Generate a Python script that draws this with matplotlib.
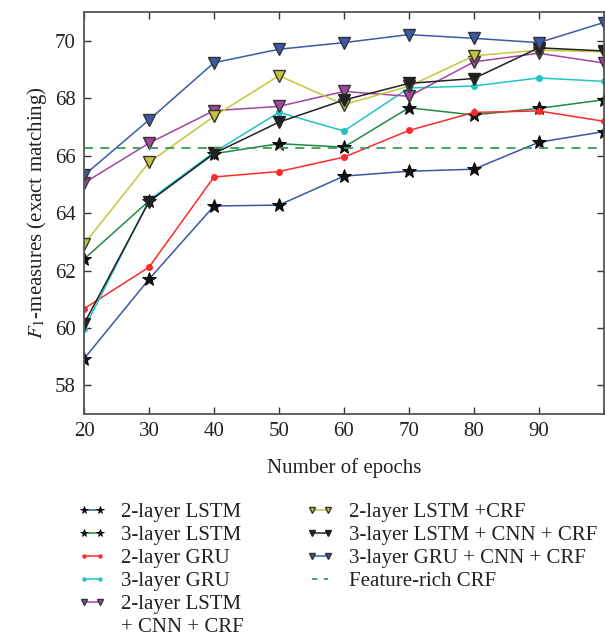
import matplotlib
matplotlib.use("Agg")
import matplotlib.pyplot as plt
from matplotlib.lines import Line2D

plt.rcParams['font.family'] = ['Liberation Serif', 'DejaVu Serif']
plt.rcParams['mathtext.fontset'] = 'stix'

epochs = [20, 30, 40, 50, 60, 70, 80, 90, 100]
lstm2 = [58.93, 61.70, 64.25, 64.28, 65.29, 65.46, 65.53, 66.47, 66.84]
lstm3 = [62.40, 64.43, 66.07, 66.42, 66.30, 67.67, 67.42, 67.65, 67.95]
gru2 = [60.67, 62.12, 65.26, 65.45, 65.95, 66.88, 67.51, 67.56, 67.20]
gru3 = [59.97, 64.45, 66.12, 67.51, 66.86, 68.36, 68.43, 68.71, 68.59]
lstm2_cnn_crf = [65.05, 66.44, 67.57, 67.72, 68.24, 68.07, 69.27, 69.57, 69.23]
lstm2_crf = [62.92, 65.77, 67.37, 68.79, 67.78, 68.42, 69.48, 69.68, 69.62]
lstm3_cnn_crf = [60.15, 64.40, 66.08, 67.17, 67.94, 68.52, 68.69, 69.76, 69.65]
gru3_cnn_crf = [65.32, 67.25, 69.24, 69.71, 69.94, 70.22, 70.09, 69.94, 70.64]
feature_rich_crf = 66.28

labels = ["2-layer LSTM", "3-layer LSTM", "2-layer GRU", "3-layer GRU",
          "2-layer LSTM", "2-layer LSTM +CRF",
          "3-layer LSTM + CNN + CRF", "3-layer GRU + CNN + CRF",
          "Feature-rich CRF"]
label_continuation = "+ CNN + CRF"
xtick_labels = ["20", "30", "40", "50", "60", "70", "80", "90", ""]

FS = 15
fig = plt.figure(figsize=(6.05, 6.42), dpi=100)
ax = fig.add_axes([0.139, 0.355, 0.859, 0.626])

series = [
    (lstm2, '#3c55a5', '*', 'k', 10),
    (lstm3, '#1f8a45', '*', 'k', 10),
    (gru2, '#ff2a2a', 'o', None, 4),
    (gru3, '#22c3c3', 'o', None, 4),
    (lstm2_cnn_crf, '#a445a4', 'v', '#333333', 8),
    (lstm2_crf, '#c5c53a', 'v', '#333333', 8),
    (lstm3_cnn_crf, '#222222', 'v', '#222222', 8),
    (gru3_cnn_crf, '#3a5aa8', 'v', '#333333', 8),
]
handles = []
for (vals, col, mk, mec, ms), lab in zip(series, labels):
    if mk == '*':
        h, = ax.plot(epochs, vals, color=col, lw=1.1, marker=mk, ms=ms,
                     mfc='#111111', mec='k', mew=0.6, label=lab)
    elif mk == 'o':
        h, = ax.plot(epochs, vals, color=col, lw=1.1, marker=mk, ms=ms,
                     mfc=col, mec=col, label=lab)
    else:
        h, = ax.plot(epochs, vals, color=col, lw=1.1, marker=mk, ms=ms,
                     mfc=col, mec=mec, mew=1.0, label=lab)
    handles.append(h)

ax.axhline(feature_rich_crf, color='#3a9a5a', lw=1.3, ls=(0, (5, 4)))
handles.append(Line2D([], [], color='#3a9a5a', lw=1.3, ls=(0, (3, 3.5))))

ax.set_xlim(20, 100)
ax.set_ylim(57, 71)
ax.set_xticks(epochs)
ax.set_xticklabels(xtick_labels)
ax.set_yticks([58, 60, 62, 64, 66, 68, 70])
ax.tick_params(direction='in', top=True, right=True, labelsize=FS, length=5,
               width=1.0, colors='#333333', labelcolor='#222222', pad=6)
for s in ax.spines.values():
    s.set_color('#555555')
    s.set_linewidth(1.3)

ax.set_xlabel("Number of epochs", fontsize=FS, color='#222222', labelpad=12)
ax.set_ylabel("$F_1$-measures (exact matching)", fontsize=FS, color='#222222', labelpad=4)

blank = Line2D([], [], ls='none', marker='none')
common = dict(frameon=False, loc='upper left', fontsize=FS, handlelength=1.4,
              numpoints=2, markerscale=0.55, labelspacing=0.16,
              handletextpad=0.7, borderpad=0, borderaxespad=0)
leg1 = fig.legend(handles=handles[:5] + [blank],
                  labels=labels[:5] + [label_continuation],
                  bbox_to_anchor=(0.128, 0.217), **common)
leg2 = fig.legend(handles=handles[5:], labels=labels[5:],
                  bbox_to_anchor=(0.505, 0.217), **common)
for lg in (leg1, leg2):
    for t in lg.get_texts():
        t.set_color('#222222')

fig.savefig("out.png", dpi=100)
